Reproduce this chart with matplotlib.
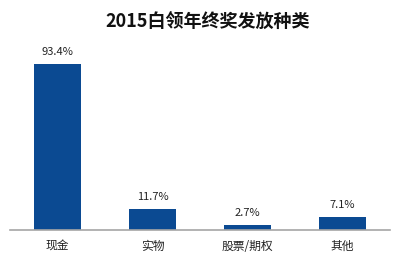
import matplotlib.pyplot as plt

plt.rcParams['font.family'] = ['Noto Sans CJK SC', 'DejaVu Sans']

# 数据
categories = ['现金', '实物', '股票/期权', '其他']
values = [93.4, 11.7, 2.7, 7.1]
labels = ['93.4%', '11.7%', '2.7%', '7.1%']

fig = plt.figure(figsize=(4.15, 2.63), dpi=100)
ax = fig.add_axes([10 / 415, 1 - 230 / 263, 380 / 415, 166 / 263 / 0.934 * 1.0])

x = range(len(categories))
bars = ax.bar(x, values, width=0.5, color='#0B4A92', zorder=2)
for xi, v, t in zip(x, values, labels):
    ax.text(xi, v + 4, t, ha='center', va='bottom', fontsize=8, color='#222222')

ax.set_xlim(-0.5, 3.5)
ax.set_ylim(0, 100)
ax.set_xticks(list(x))
ax.set_xticklabels(categories, fontsize=8.5, color='#222222')
ax.tick_params(axis='x', length=0, pad=7)
ax.set_yticks([])
for s in ['top', 'right', 'left']:
    ax.spines[s].set_visible(False)
ax.spines['bottom'].set_color('#a6a6a6')
ax.spines['bottom'].set_linewidth(1.2)

fig.text(0.5, 1 - 22 / 263, '2015白领年终奖发放种类', ha='center', va='center',
         fontsize=13, fontweight='bold', color='#111111')

fig.savefig('out.png', dpi=100)
